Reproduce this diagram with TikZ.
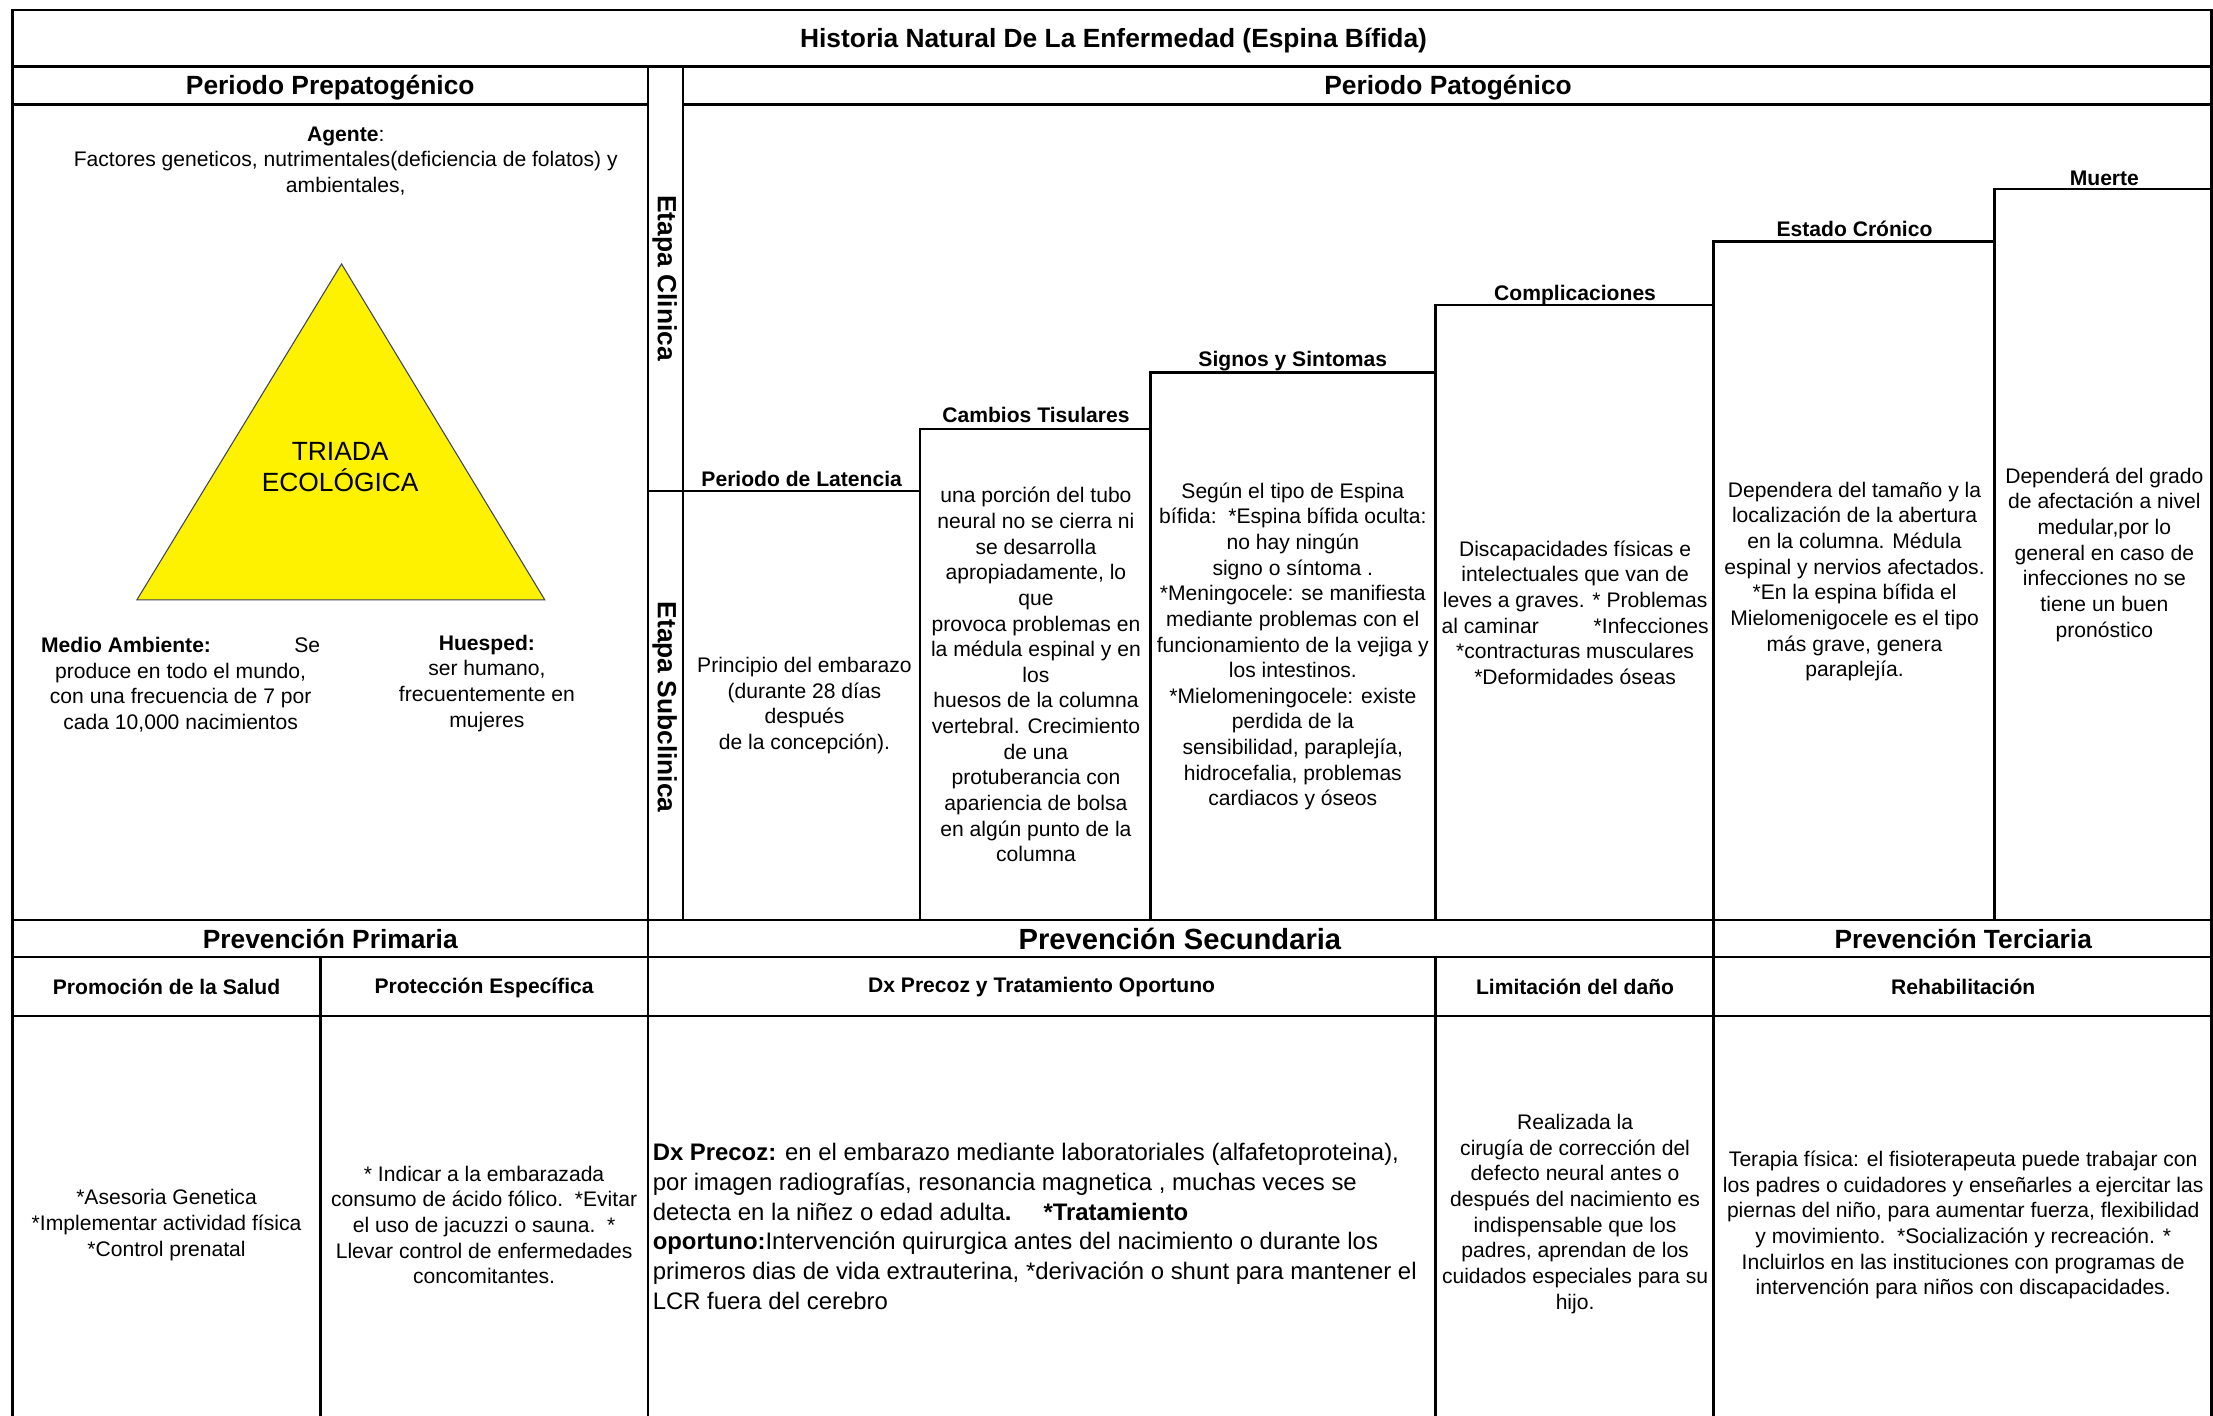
\documentclass[tikz,border=0pt]{standalone}
\usepackage{fontspec}
\setmainfont{Liberation Sans}
\definecolor{triedge}{RGB}{60,66,96}

\begin{document}
\begin{tikzpicture}[x=0.14113mm, y=-0.14113mm,
  rule/.style={black, line width=0.7pt, line cap=rect},
  body/.style={align=center, font=\fontsize{6}{7.3}\selectfont},
  head/.style={font=\fontsize{7.5}{9}\selectfont\bfseries},
  sub/.style={font=\fontsize{6}{7.3}\selectfont\bfseries},
  etapa/.style={head, rotate=-90}]
\tikzstyle{every node}+=[inner sep=0pt]
\useasboundingbox (0,0) rectangle (1568,1003);
% grid
\foreach \y in {7,47,652,678,720}
  \draw [rule] (9,\y) -- (1567,\y);
\draw [rule] (9,74) -- (459,74);
\draw [rule] (484,74) -- (1567,74);
\draw [rule] (9,7) -- (9,1003);
\draw [rule] (1567,7) -- (1567,1003);
\draw [rule] (459,47) -- (459,1003);
\draw [rule] (484,47) -- (484,652);
\draw [rule] (227,678) -- (227,1003);
\draw [rule] (1017,678) -- (1017,1003);
\draw [rule] (1214,652) -- (1214,1003);
% escalera
\draw [rule] (459,348) -- (652,348) -- (652,304) -- (815,304) -- (815,264) -- (1017,264)
  -- (1017,216) -- (1214,216) -- (1214,171) -- (1413,171) -- (1413,134) -- (1567,134);
\foreach \x/\y in {652/304, 815/264, 1017/216, 1214/171, 1413/134}
  \draw [rule] (\x,\y) -- (\x,652);
% triada
\filldraw [fill=yellow, draw=triedge, line width=0.3pt] (242,187) -- (386,425) -- (97,425) -- cycle;
\node (triada) [align=center, font=\fontsize{7.5}{8.8}\selectfont] at (241,331) {TRIADA\\ECOLÓGICA};
% encabezados
\node (title) [head] at (789,29) {Historia Natural De La Enfermedad (Espina Bífida)};
\node (prepat) [head] at (234,62) {Periodo Prepatogénico};
\node (pat) [head] at (1026,62) {Periodo Patogénico};
\node (clinica) [etapa] at (471,197) {Etapa Clinica};
\node (subclinica) [etapa] at (471,501) {Etapa Subclinica};
% prepatogenico
\node (agente) [body] at (245,114) {\textbf{Agente}:\\Factores geneticos, nutrimentales(deficiencia de folatos) y\\ambientales,};
\node (medio) [body] at (128,485) {\makebox[27.9mm]{\textbf{Medio Ambiente:}\hfill Se}\\produce en todo el mundo,\\con una frecuencia de 7 por\\cada 10,000 nacimientos};
\node (huesped) [body] at (345,484) {\textbf{Huesped:}\\ser humano,\\frecuentemente en\\mujeres};
% patogenico
\node (latencia) [sub] at (568,339) {Periodo de Latencia};
\node (latbody) [body] at (570,500) {Principio del embarazo\\(durante 28 días\\después\\de la concepción).};
\node (cambios) [sub] at (734,294) {Cambios Tisulares};
\node (cambody) [body] at (734,478) {una porción del tubo\\neural no se cierra ni\\se desarrolla\\apropiadamente, lo\\que\\provoca problemas en\\la médula espinal y en\\los\\huesos de la columna\\vertebral. Crecimiento\\de una\\protuberancia con\\apariencia de bolsa\\en algún punto de la\\columna};
\node (signos) [sub] at (916,256) {Signos y Sintomas};
\node (sigbody) [body] at (916,458) {Según el tipo de Espina\\bífida:\ \ *Espina bífida oculta:\\no hay ningún\\signo o síntoma .\\*Meningocele: se manifiesta\\mediante problemas con el\\funcionamiento de la vejiga y\\los intestinos.\\*Mielomeningocele: existe\\perdida de la\\sensibilidad, paraplejía,\\hidrocefalia, problemas\\cardiacos y óseos};
\node (compl) [sub] at (1116,209) {Complicaciones};
\node (combody) [body] at (1116,434) {Discapacidades físicas e\\intelectuales que van de\\leves a graves. * Problemas\\\makebox[26.7mm]{al caminar\hfill*Infecciones}\\*contracturas musculares\\*Deformidades óseas};
\node (cronico) [sub] at (1314,162) {Estado Crónico};
\node (crobody) [body] at (1314,412) {Dependera del tamaño y la\\localización de la abertura\\en la columna. Médula\\espinal y nervios afectados.\\*En la espina bífida el\\Mielomenigocele es el tipo\\más grave, genera\\paraplejía.};
\node (muerte) [sub] at (1491,126) {Muerte};
\node (muebody) [body] at (1491,393) {Dependerá del grado\\de afectación a nivel\\medular,por lo\\general en caso de\\infecciones no se\\tiene un buen\\pronóstico};
% prevencion
\node (primaria) [head] at (234,665) {Prevención Primaria};
\node (secundaria) [head, font=\fontsize{8.3}{10}\selectfont\bfseries] at (836,665) {Prevención Secundaria};
\node (terciaria) [head] at (1391,665) {Prevención Terciaria};
\node (promocion) [sub] at (118,699) {Promoción de la Salud};
\node (proteccion) [sub] at (343,700) {Protección Específica};
\node (dx) [sub] at (738,699) {Dx Precoz y Tratamiento Oportuno};
\node (limitacion) [sub] at (1116,699) {Limitación del daño};
\node (rehab) [sub] at (1391,699) {Rehabilitación};
\node (probody) [body] at (118,868) {*Asesoria Genetica\\*Implementar actividad física\\*Control prenatal};
\node (protbody) [body] at (343,868) {* Indicar a la embarazada\\consumo de ácido fólico.\ \ *Evitar\\el uso de jacuzzi o sauna.\ \ *\\Llevar control de enfermedades\\concomitantes.};
\node (dxbody) [anchor=west, align=left, font=\fontsize{6.8}{8.5}\selectfont] at (462,869) {\textbf{Dx Precoz:} en el embarazo mediante laboratoriales (alfafetoproteina),\\por imagen radiografías, resonancia magnetica , muchas veces se\\detecta en la niñez o edad adulta\textbf{.}\hspace{3.2mm}\textbf{*Tratamiento}\\\textbf{oportuno:}Intervención quirurgica antes del nacimiento o durante los\\primeros dias de vida extrauterina, *derivación o shunt para mantener el\\LCR fuera del cerebro};
\node (limbody) [body] at (1116,860) {Realizada la\\cirugía de corrección del\\defecto neural antes o\\después del nacimiento es\\indispensable que los\\padres, aprendan de los\\cuidados especiales para su\\hijo.};
\node (rehbody) [body] at (1391,868) {Terapia física: el fisioterapeuta puede trabajar con\\los padres o cuidadores y enseñarles a ejercitar las\\piernas del niño, para aumentar fuerza, flexibilidad\\y movimiento.\ \ *Socialización y recreación. *\\Incluirlos en las instituciones con programas de\\intervención para niños con discapacidades.};
\end{tikzpicture}
\end{document}
